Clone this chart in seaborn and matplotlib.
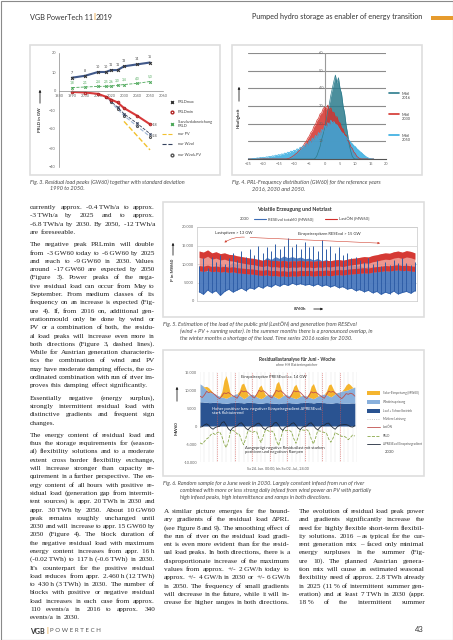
import math
import numpy as np
import matplotlib
matplotlib.use("Agg")
import matplotlib.pyplot as plt
from matplotlib.patches import Rectangle, FancyArrowPatch
from matplotlib.lines import Line2D
from matplotlib.font_manager import FontProperties
import seaborn as sns

sns.set_theme(style="white")
plt.rcParams["font.family"] = ["Lato", "DejaVu Sans"]
plt.rcParams["axes.linewidth"] = 0.5

# ---- Fig. 3 data: residual load peaks
years = [1990, 2000, 2010, 2016, 2020, 2025, 2030, 2040, 2050]
prl_max = [7, 8, 10, 10, 11, 11, 13, 14, 15]
prl_std = [1.8, 2.1, 2.4, 2.5, 2.6, 3.0, 3.4, 4.0, 5.0]
prl_min = [-0.5, -0.8, -1.5, -3, -4.5, -6, -9, -13, -17.5]
max_labels = ["7", "8", "10", "10", "11", "11", "13", "14", "15"]
std_labels = ["1,8", "2,1", "2,4", "2,5", "2,6", "3,0", "3,4", "4,0", "5,0"]
years_scen = [2016, 2020, 2025, 2030, 2040, 2050]
only_wind = [-3, -5.5, -8.5, -12, -17, -22.5]
only_windpv = [-3, -6, -9.5, -13, -18.5, -24]
years_pv = [2030, 2040, 2050]
only_pv = [-16, -23.5, -31]

# ---- Fig. 4 data: frequency of residual load, bins -25 ... 16 GW60 (0.5 steps)
freq_2016 = [0] * 44 + [0.5, 2.0, 4.5, 7.0, 11.0, 14.0,
                        18.0, 22.0, 27.0, 31.0, 36.0, 40.0, 44.0, 47.5, 43.0, 46.0,
                        40.0, 37.0, 30.0, 26.0, 19.0, 14.0, 8.0, 4.5, 1.5, 0.3] + [0] * 13
freq_2030 = [0] * 26 + [0.2, 0.5, 0.9, 1.5,
                        2.0, 2.8, 3.4, 4.5, 5.2, 6.6, 7.4, 9.0, 10.0, 11.8,
                        13.0, 15.0, 16.0, 18.5, 19.5, 22.0, 23.0, 25.5, 26.0, 28.5,
                        29.5, 28.0, 30.5, 27.5, 29.0, 26.0, 26.5, 23.5, 24.0, 21.0,
                        20.5, 17.5, 17.0, 14.0, 13.5, 10.5, 9.5, 7.0, 6.0, 4.0,
                        3.0, 1.5, 0.8, 0.2, 0, 0, 0, 0, 0, 0, 0, 0, 0]
freq_2050 = [0, 0, 0, 0.2, 0.4, 0.3, 0.6, 0.5, 0.8, 0.7,
             1.0, 0.8, 1.2, 1.1, 1.5, 1.3, 1.8, 1.6, 2.2, 2.0,
             2.5, 2.2, 2.9, 2.6, 3.4, 3.0, 3.9, 3.5, 4.5, 4.1,
             5.0, 4.6, 5.8, 5.2, 6.7, 6.0, 7.6, 7.0, 8.8, 8.0,
             10.5, 9.5, 11.8, 10.9, 13.4, 12.2, 15.0, 13.8, 16.8, 15.6,
             19.0, 17.8, 20.6, 19.2, 22.0, 20.4, 21.2, 19.6, 19.4, 17.9,
             16.5, 15.0, 14.6, 13.1, 12.6, 11.2, 10.7, 9.4, 8.6, 7.5,
             7.0, 5.8, 5.1, 4.2, 3.6, 2.7, 2.0, 1.3, 0.8, 0.4,
             0.1, 0, 0]

# ---- Fig. 5 data: weekly ranges, MW60
load_lo = [8200, 8000, 8300, 7900, 8100, 7800, 8000, 7700, 7900, 7600, 7500, 7400, 7300,
           7200, 7000, 6900, 7100, 6800, 6900, 6700, 6800, 6600, 6800, 6700, 6900, 6800,
           6900, 6700, 6900, 6800, 7000, 6800, 7000, 7100, 7000, 7200, 7300, 7400, 7500,
           7600, 7500, 7800, 7900, 8000, 8200, 8100, 8300, 8400, 8200, 8300, 8100, 8000]
load_hi = [13500, 13200, 13800, 13000, 13300, 12800, 13000, 12600, 12500, 12200, 12000, 11800, 11600,
           11500, 11200, 11000, 11300, 10900, 11000, 10800, 11000, 10700, 10900, 10800, 11000, 10800,
           10900, 10700, 10900, 10800, 11000, 10900, 11100, 11200, 11000, 11300, 11500, 11600, 11800,
           12000, 11900, 12300, 12500, 12800, 13000, 12900, 13300, 13500, 13200, 13600, 13400, 13000]
res_lo = [2500, 1800, 3000, 2200, 2800, 1500, 2600, 3200, 2400, 3000, 3500, 2800, 3600,
          3200, 4000, 3500, 4200, 3800, 4500, 4000, 4600, 4200, 4800, 4400, 4700, 4300,
          4500, 4100, 4600, 4000, 4400, 3800, 4200, 3600, 3900, 3200, 3500, 2800, 3100,
          2500, 2900, 2200, 2600, 1800, 2400, 2000, 2700, 1900, 2300, 2600, 2100, 2800]
res_hi = [8500, 9500, 8000, 9800, 8800, 10200, 9000, 9600, 10500, 9800, 10800, 10200, 11000,
          10600, 11400, 10800, 11800, 11200, 12000, 11500, 12200, 11700, 12000, 11600, 11900, 11400,
          11600, 11100, 11500, 10900, 11200, 10600, 10900, 10200, 10500, 9800, 10000, 9400, 9600,
          9000, 9400, 8800, 9200, 8600, 9000, 8400, 9100, 8800, 9300, 9000, 8700, 9200]
res_peak = [9500, 11500, 9000, 12000, 10500, 12500, 10000, 11500, 13000, 11000, 13500, 12000, 14000,
            12500, 15000, 13000, 14500, 13500, 15500, 14000, 15000, 17000, 14500, 15500, 14000, 16000,
            14500, 15000, 13500, 16500, 14000, 15000, 13000, 14500, 12500, 13000, 11500, 12000, 11000,
            10500, 11500, 10000, 11000, 9500, 10500, 9800, 11000, 10200, 11500, 10400, 9800, 10500]

# ---- Fig. 6 data: June week 2030, 3-hourly values, MW60
river = [6700, 6700, 6600, 6600, 6500, 6500, 6600, 6600,
         6500, 6500, 6400, 6400, 6300, 6400, 6500, 6500,
         6600, 6600, 6500, 6500, 6400, 6500, 6600, 6600,
         6500, 6500, 6400, 6300, 6300, 6400, 6500, 6500,
         6400, 6400, 6300, 6300, 6200, 6300, 6400, 6400,
         6500, 6500, 6400, 6400, 6300, 6400, 6500, 6500,
         6600, 6600, 6500, 6500, 6400, 6500, 6600, 6600,
         6500, 6500, 6400, 6400, 6300, 6400, 6500, 6500,
         6400, 6400, 6300, 6300, 6300, 6400, 6400, 6400]
wind = [5000, 4600, 4000, 3500, 3000, 2800, 2500, 2300,
        2000, 1800, 1600, 1500, 1400, 1600, 1800, 2000,
        2200, 2400, 2000, 1600, 1200, 1400, 1800, 2100,
        2300, 2000, 1700, 1500, 1300, 1500, 1900, 2200,
        2400, 2200, 1900, 1600, 1400, 1700, 2000, 2300,
        2100, 1900, 1600, 1400, 1300, 1500, 1800, 2000,
        1900, 1700, 1500, 1300, 1200, 1400, 1700, 1900,
        2200, 2400, 2300, 2000, 1800, 2100, 2500, 2800,
        3000, 3300, 3500, 3600, 3800, 4000, 4200, 4400]
solar = [0, 0, 300, 900, 1100, 600, 0, 0,
         0, 0, 1500, 4800, 6300, 3500, 300, 0,
         0, 0, 1200, 3500, 4300, 2500, 200, 0,
         0, 0, 1000, 3000, 3800, 2000, 200, 0,
         0, 0, 1300, 3900, 4800, 2600, 200, 0,
         0, 0, 1100, 3200, 4000, 2200, 200, 0,
         0, 0, 1100, 3300, 4200, 2300, 200, 0,
         0, 0, 1000, 3000, 3600, 1900, 200, 0,
         0, 0, 600, 1500, 1800, 1000, 100, 0]
load_week = [8300, 7900, 8600, 9600, 9300, 9500, 9100, 8600,
             8000, 7600, 8300, 9200, 9000, 9300, 8900, 8400,
             8100, 7700, 8700, 9800, 9500, 9700, 9300, 8700,
             8200, 7800, 8800, 9900, 9600, 9800, 9400, 8800,
             8200, 7800, 8800, 9900, 9600, 9800, 9300, 8700,
             8100, 7700, 8700, 9800, 9500, 9700, 9300, 8700,
             8000, 7600, 8500, 9500, 9200, 9400, 9000, 8500,
             8100, 7700, 8700, 9700, 9400, 9600, 9200, 8600,
             8000, 7600, 8200, 9000, 8800, 9100, 8900, 8300]
residual = [-4700, -5000, -4300, -3600, -3200, -2400, -2000, -2400,
            -1800, -1600, -2800, -4800, -6000, -4200, -1500, -1200,
            -1500, -2200, -2200, -3900, -5200, -3400, -1300, -1400,
            -1800, -1500, -1600, -3400, -4600, -2800, -1100, -1200,
            -1600, -1400, -2000, -4100, -5400, -3500, -1200, -1300,
            -1300, -1200, -1700, -3500, -4800, -3100, -1000, -1100,
            -1200, -1000, -1600, -3600, -5000, -3300, -1300, -1400,
            -1600, -1800, -2000, -3600, -4500, -3400, -1800, -2200,
            -2500, -2900, -2800, -3200, -3800, -3200, -2500, -2800]
gradient = [-300, -200, 300, 600, 200, -500, -900, -400,
            -200, -100, 900, 1200, 300, -800, -1300, -500,
            -200, 0, 700, 900, 200, -600, -1100, -400,
            -100, 0, 600, 800, 200, -600, -1000, -300,
            -200, -100, 800, 1000, 300, -700, -1200, -400,
            -100, 0, 700, 900, 200, -600, -1000, -300,
            -100, 0, 700, 900, 200, -600, -1100, -400,
            100, 200, 700, 800, 100, -500, -900, -200,
            200, 300, 400, 400, 200, -200, -300, 100]

# ---- page layout helpers (pixel coordinates of the 453x640 page)
W, H = 453, 640
fig = plt.figure(figsize=(W / 100, H / 100), dpi=100)
renderer = fig.canvas.get_renderer()


def fx(x):
    return x / W


def fy(y):
    return 1 - y / H


def box(x0, y0, x1, y1):
    return [fx(x0), fy(y1), (x1 - x0) / W, (y1 - y0) / H]


def txt(x, y, s, **kw):
    kw.setdefault("va", "center")
    return fig.text(fx(x), fy(y), s, **kw)


def frame(x0, y0, x1, y1, ec="#dedede", lw=1.2, fc="none"):
    fig.add_artist(Rectangle((fx(x0), fy(y1)), (x1 - x0) / W, (y1 - y0) / H,
                             transform=fig.transFigure, ec=ec, fc=fc, lw=lw))


def arrow(x0, y0, x1, y1, color="#222222", lw=0.6):
    fig.add_artist(FancyArrowPatch((fx(x0), fy(y0)), (fx(x1), fy(y1)), transform=fig.transFigure,
                                   arrowstyle="-|>", mutation_scale=3, lw=lw, color=color))


def key_line(x0, x1, y, **kw):
    fig.add_artist(Line2D([fx(x0), fx(x1)], [fy(y), fy(y)], transform=fig.transFigure, **kw))


def width_px(s, **kw):
    t = fig.text(0, 0, s, **kw)
    w = t.get_window_extent(renderer=renderer).width
    t.remove()
    return w


T = "\u2009"
BODY = dict(family="Liberation Serif", size=5.25, color="#1e1e1e")
BODY_PROP = FontProperties(family="Liberation Serif", size=5.25)
CAP = dict(family="Lato", style="italic", size=4.0, color="#4a4a4a")
TICK = dict(labelsize=2.8, length=1.2, width=0.4, colors="#666666", pad=1)
SPACE = width_px("a b", **BODY) - width_px("ab", **BODY)


def raster_shift(word):
    # Agg rounds each word's bitmap on its own; shift so all words share one pixel baseline
    try:
        from matplotlib.backends.backend_agg import get_hinting_flag
        font = renderer._prepare_font(BODY_PROP)
        font.set_text(word, 0, flags=get_hinting_flag())
        d = font.get_descent() / 64
        h = font.get_width_height()[1] / 64
        return math.floor(h) - math.floor(h - d) - d
    except Exception:
        return 0.0


def paragraph(lines, x0, x1, y, step=8.3, justify_last=False):
    # one text per word, words of a line share a baseline on whole pixels
    for i, line in enumerate(lines):
        words = line.split(" ")
        last = i == len(lines) - 1 and not justify_last
        base = round(y + 2.0)
        widths = [width_px(w, **BODY) for w in words]
        if last or len(words) == 1:
            gap = SPACE
        else:
            gap = max((x1 - x0 - sum(widths)) / (len(words) - 1), SPACE * 0.6)
        x = x0
        for w, wd in zip(words, widths):
            txt(x, base + raster_shift(w), w, va="baseline", **BODY)
            x += wd + gap
        y += step
    return y


# ---- page frame and header
frame(0.5, 0.5, 452.5, 639.5, ec="#8a8a8a", lw=0.8)
HEAD = dict(family="Lato", size=5.2, color="#333333")
txt(30, 17, "VGB PowerTech 11", **HEAD)
w1 = width_px("VGB PowerTech 11", **HEAD)
txt(30 + w1 + 0.5, 17, "|", family="Lato", size=5.2, color="#e69b2d", weight="bold")
txt(30 + w1 + 2.5, 17, "2019", **HEAD)
txt(422, 17, "Pumped hydro storage as enabler of energy transition", ha="right", **HEAD)
frame(431, 16, 453, 20, ec="none", fc="#e69b2d", lw=0)

# ---- Fig. 3
frame(30, 45, 220, 175)
ax3 = fig.add_axes(box(59, 53, 163, 167))
ax3.set_xlim(1980, 2060)
ax3.set_ylim(-40, 20)
sns.lineplot(x=years, y=prl_max, ax=ax3, color="#41598a", lw=1.5, marker="x", markersize=2,
             markeredgecolor="#333333")
sns.lineplot(x=years, y=prl_std, ax=ax3, color="#4da85a", lw=0.6, linestyle="--", marker="x",
             markersize=1.8, markeredgecolor="#4da85a")
sns.lineplot(x=years_scen, y=only_windpv, ax=ax3, color="#9fb6d6", lw=0.8, linestyle="--",
             marker="o", markersize=1.5, markerfacecolor="none", markeredgecolor="#555555")
sns.lineplot(x=years_scen, y=only_wind, ax=ax3, color="#35425e", lw=0.6, linestyle="--",
             marker="x", markersize=1.6, markeredgecolor="#35425e")
sns.lineplot(x=years_pv, y=only_pv, ax=ax3, color="#f2c12e", lw=1.0, linestyle="--")
sns.lineplot(x=years, y=prl_min, ax=ax3, color="#d8393a", lw=1.5, marker="o", markersize=1.8,
             markerfacecolor="none", markeredgecolor="#b02525")
for xv, yv, lab in zip(years, prl_max, max_labels):
    ax3.text(xv, yv + 2.2, lab, fontsize=2.6, color="#444444", ha="center")
for xv, yv, lab in zip(years, prl_std, std_labels):
    ax3.text(xv, yv + 2.0, lab, fontsize=2.4, color="#4da85a", ha="center")
ax3.text(years[-1] + 1.5, prl_min[-1] - 0.5, "-18", fontsize=2.6, color="#444444", va="center")
ax3.text(years_scen[-1] + 1.5, only_windpv[-1] + 0.5, "-24", fontsize=2.6, color="#444444", va="center")
ax3.set_xticks(range(1980, 2061, 10))
ax3.set_yticks(range(-40, 21, 10))
ax3.tick_params(**TICK)
ax3.spines["bottom"].set_position(("data", 0))
for s in ["top", "right"]:
    ax3.spines[s].set_visible(False)
for s in ["left", "bottom"]:
    ax3.spines[s].set_color("#888888")
ax3.set_xlabel("")
ax3.set_ylabel("")
ax3.set_facecolor("none")
txt(40, 120, "PRLD in GW", rotation=90, ha="center", size=3.2, weight="bold", color="#333333")
arrow(40, 106, 40, 87)
legend3 = [("PRLDmax", "x", "#333333", None, 102),
           ("PRLDmin", "o", "#b02525", None, 112),
           ("Standardabweichung\nPRLD", "x", "#4da85a", None, 124),
           ("nur PV", None, "#f2c12e", "--", 134),
           ("nur Wind", None, "#35425e", "--", 144),
           ("nur Wind+PV", "o", "#555555", None, 155)]
for lab, mk, col, ls, yy in legend3:
    if mk:
        fig.add_artist(Line2D([fx(172)], [fy(yy)], transform=fig.transFigure, marker=mk, ms=2,
                              color=col, mfc="none", lw=0))
    else:
        key_line(162, 173, yy, color=col, lw=0.8, ls=ls)
    txt(178, yy, lab, size=2.8, color="#444444", linespacing=1.1)
txt(30, 182, "Fig. 3. Residual load peaks (GW60) together with standard deviation", **CAP)
txt(50, 189, "1990 to 2050.", **CAP)

# ---- Fig. 4
frame(232, 45, 422, 175)
ax4 = fig.add_axes(box(248, 53, 386, 159))
bins = np.arange(-25, 16.5, 0.5)
ax4.set_xlim(-25, 20)
ax4.set_ylim(0, 60)
for yv in range(10, 61, 10):
    ax4.axhline(yv, color="#8c8c8c", lw=0.8, zorder=0)
ax4.axvline(0, color="#9a9a9a", lw=0.8, zorder=0)
for vals, col in [(freq_2016, "#2b7b8c"), (freq_2030, "#d3332d"), (freq_2050, "#35ace0")]:
    ax4.fill_between(bins, 0, vals, color=col, alpha=0.85, lw=0)
    sns.lineplot(x=bins, y=vals, ax=ax4, color=col, lw=0.5)
for yv in range(10, 61, 10):
    ax4.text(-0.4, yv, str(yv), fontsize=2.8, color="#666666", ha="right", va="center")
ax4.set_xticks(range(-25, 21, 5))
ax4.set_yticks([])
ax4.tick_params(**TICK)
for s in ["top", "right", "left"]:
    ax4.spines[s].set_visible(False)
ax4.spines["bottom"].set_color("#555555")
ax4.spines["bottom"].set_linewidth(0.8)
ax4.set_xlabel("")
ax4.set_ylabel("")
ax4.set_facecolor("none")
txt(239, 118, "Häufigkeit", rotation=90, ha="center", size=3.2, weight="bold", color="#333333")
arrow(239, 104, 239, 84)
for lab, col, yy in [("Mittl\n2016", "#2b7b8c", 96), ("Mittl\n2030", "#d3332d", 117),
                     ("Mittl\n2050", "#35ace0", 138)]:
    key_line(389, 399, yy - 3, color=col, lw=1.2)
    txt(402, yy, lab, size=2.8, color="#444444", linespacing=1.3)
txt(232, 182, "Fig. 4. PRL-Frequency distribution (GW60) for the reference years", **CAP)
txt(252, 189, "2016, 2030 and 2050.", **CAP)

# ---- Fig. 5
frame(163, 202, 424, 317)
ax5 = fig.add_axes(box(197, 227, 417, 301))
hours5 = (np.arange(len(load_lo)) + 0.5) * 8760 / len(load_lo)
ax5.set_xlim(0, 8760)
ax5.set_ylim(0, 20000)
for yv in range(5000, 20001, 5000):
    ax5.axhline(yv, color="#d0d0d0", lw=0.5, zorder=0)
ax5.fill_between(hours5, res_lo, res_hi, color="#4a78bd", alpha=0.95, lw=0)
ax5.fill_between(hours5, load_lo, load_hi, color="#ea857c", alpha=0.85, lw=0)
ax5.fill_between(hours5, load_lo, np.array(load_lo) + 1400, color="#d32f2a", alpha=0.9, lw=0)
ax5.fill_between(hours5, np.array(load_hi) - 1700, load_hi, color="#d32f2a", alpha=0.9, lw=0)
ax5.vlines(hours5, res_lo, res_peak, color="#2f5ea8", lw=0.7)
sns.lineplot(x=hours5, y=res_lo, ax=ax5, color="#2f5ea8", lw=0.5)
ax5.annotate("", xy=(1000, 15400), xytext=(2000, 17200),
             arrowprops=dict(arrowstyle="-|>", color="#d0402f", lw=0.4, mutation_scale=3,
                             connectionstyle="arc3,rad=0.2"))
ax5.annotate("", xy=(7400, 15600), xytext=(2000, 17200),
             arrowprops=dict(arrowstyle="-|>", color="#d0402f", lw=0.4, mutation_scale=3))
ax5.set_yticks(range(0, 20001, 5000))
ax5.set_yticklabels(["0", "5.000", "10.000", "15.000", "20.000"])
ax5.set_xticks([])
ax5.tick_params(**TICK)
for s in ax5.spines.values():
    s.set_color("#c8c8c8")
ax5.set_xlabel("")
ax5.set_ylabel("")
txt(294, 210, "Volatile Erzeugung und Netzlast", ha="center", size=3.8, weight="bold", color="#333333")
txt(240, 219, "2030", size=3.0, color="#444444")
key_line(254, 266, 219, color="#3d6db5", lw=0.8)
txt(268, 219, "RESEvol total60 [MW60]", size=3.0, color="#444444")
key_line(325, 337, 219, color="#d32f2a", lw=0.8)
txt(339, 219, "LastÖN [MW60]", size=3.0, color="#444444")
txt(215, 233, "Lastspitzen > 13 GW", size=3.0, color="#333333")
txt(298, 234, "Einspeisespitzen RESEvol > 15 GW", size=3.0, color="#333333")
txt(173, 270, "P in MW60", rotation=90, ha="center", size=3.2, weight="bold", color="#333333")
arrow(173, 258, 173, 240)
txt(300, 309, "8760h", ha="center", size=3.2, weight="bold", color="#333333")
arrow(311, 309, 326, 309)
txt(163, 324, "Fig. 5. Estimation of the load of the public grid (LastÖN) and generation from RESEvol", **CAP)
txt(180, 331, "(wind + PV + running water). In the summer months there is a pronounced overlap, in", **CAP)
txt(180, 338, "the winter months a shortage of the load. Time series 2016 scales for 2030.", **CAP)

# ---- Fig. 6
frame(163, 350, 424, 476)
ax6 = fig.add_axes(box(200, 372, 357, 462))
hours6 = np.arange(0, 3 * len(river), 3)
ax6.set_xlim(0, 216)
ax6.set_ylim(-10000, 15000)
ax6.vlines(np.arange(0, 217, 6), -10000, 15000, color="#e2e2e2", lw=0.3, zorder=0)
ax6.stackplot(hours6, river, wind, solar, colors=["#2a5391", "#89b0dc", "#f5b52e"], lw=0)
ax6.vlines(np.arange(24, 216, 24), -10000, 15000, color="#d9534f", lw=0.5, linestyles=":")
sns.lineplot(x=hours6, y=load_week, ax=ax6, color="#c0504d", lw=0.6)
sns.lineplot(x=hours6, y=residual, ax=ax6, color="#8aa84a", lw=0.6, linestyle="--")
sns.lineplot(x=hours6, y=gradient, ax=ax6, color="#1f2a3a", lw=0.6)
ax6.set_yticks(range(-10000, 15001, 5000))
ax6.set_yticklabels(["-10.000", "-5.000", "0", "5.000", "10.000", "15.000"])
ax6.set_xticks([])
ax6.tick_params(**TICK)
for s in ax6.spines.values():
    s.set_visible(False)
ax6.set_xlabel("")
ax6.set_ylabel("")
txt(297, 359, "Residuallastanalyse für Juni - Woche", ha="center", size=3.4, weight="bold", color="#333333")
txt(297, 365, "ohne HH Batteriespeicher", ha="center", size=2.6, color="#555555")
txt(177, 428, "MW60", rotation=90, ha="center", size=3.2, weight="bold", color="#333333")
arrow(177, 404, 177, 384)
txt(241, 377, "Einspeisespitze PRESEvol ca. 14 GW", size=3.0, color="#333333")
txt(212, 411, "Hoher positiver bzw. negativer Einspeisegradient ΔPRESEvol,\nstark fluktuierend",
    size=3.0, color="white", linespacing=1.2)
txt(245, 450, "Ausgeprägt negative Residuallast mit starken\npositiven und negativen Rampen",
    size=3.0, color="#333333", linespacing=1.2)
txt(278, 468, "Sa 24. Jun. 00:00, bis So 02. Jul., 24:00", ha="center", size=2.6, color="#555555")
legend6 = [("Solar-Einspeisung [MW60]", "patch", "#f5b52e"),
           ("Windeinspeisung", "patch", "#89b0dc"),
           ("Lauf + Schwellbetrieb", "patch", "#2a5391"),
           ("Mittlere Leistung", ":", "#b5b5b5"),
           ("LastÖN", "-", "#c0504d"),
           ("PRLD", "--", "#8aa84a"),
           ("ΔPRESEvol Einspeisegradient", "-", "#1f2a3a")]
for (lab, kind, col), yy in zip(legend6, [393, 402, 411, 419, 427, 436, 444]):
    if kind == "patch":
        frame(367, yy - 1.6, 380, yy + 1.6, ec="none", fc=col, lw=0)
    else:
        key_line(367, 380, yy, color=col, lw=0.6, ls=kind)
    txt(383, yy, lab, size=2.2, color="#555555")
txt(385, 452, "2030", size=3.0, color="#444444")
txt(163, 483, "Fig. 6. Random sample for a June week in 2030. Largely constant infeed from run of river", **CAP)
txt(180, 490, "combined with more or less strong daily infeed from wind power an PV with partially", **CAP)
txt(180, 497, "high infeed peaks, high intermittence and ramps in both directions.", **CAP)

# ---- body text
col1 = [
    ["currently approx. -0.4" + T + "TWh/a to approx.",
     "-3" + T + "TWh/a by 2025 and to approx.",
     "-6.8" + T + "TWh/a by 2030. By 2050, -12" + T + "TWh/a",
     "are foreseeable."],
    ["The negative peak PRLmin will double",
     "from -3" + T + "GW60 today to -6" + T + "GW60 by 2025",
     "and reach to -9" + T + "GW60 in 2030. Values",
     "around -17" + T + "GW60 are expected by 2050",
     "(Figure 3). Power peaks of the nega-",
     "tive residual load can occur from May to",
     "September. From medium classes of its",
     "frequency on an increase is expected (Fig-",
     "ure 4). If, from 2016 on, additional gen-",
     "erationmould only be done by wind or",
     "PV or a combination of both, the residu-",
     "al load peaks will increase even more in",
     "both directions (Figure 3, dashed lines).",
     "While for Austrian generation characteris-",
     "tics the combination of wind and PV",
     "may have moderate damping effects, the co-",
     "ordinated combination with run of river im-",
     "proves this damping effect significantly."],
    ["Essentially negative (energy surplus),",
     "strongly intermittent residual load with",
     "distinctive gradients and frequent sign",
     "changes."],
    ["The energy content of residual load and",
     "thus the storage requirements for (season-",
     "al) flexibility solutions and to a moderate",
     "extent cross border flexibility exchange,",
     "will increase stronger than capacity re-",
     "quirement in a further perspective. The en-",
     "ergy content of all hours with positive re-",
     "sidual load (generation gap from intermit-",
     "tent sources) is appr. 20" + T + "TWh in 2030 and",
     "appr. 30" + T + "TWh by 2050. About 10" + T + "GW60",
     "peak remains roughly unchanged until",
     "2030 and will increase to appr. 15" + T + "GW60 by",
     "2050 (Figure 4). The block duration of",
     "the negative residual load with maximum",
     "energy content increases from appr. 16" + T + "h",
     "(-0.02" + T + "TWh) to 117" + T + "h (-0.6" + T + "TWh) in 2030.",
     "It's counterpart for the positive residual",
     "load reduces from appr. 2.460" + T + "h (12" + T + "TWh)",
     "to 430" + T + "h (3" + T + "TWh) in 2030. The number of",
     "blocks with positive or negative residual",
     "load increases in each case from approx.",
     "110 events/a in 2016 to approx. 340",
     "events/a in 2030."],
]
y = 207
for p in col1:
    y = paragraph(p, 30, 155, y) + 4.0

col2 = ["A similar picture emerges for the bound-",
        "ary gradients of the residual load ΔPRL",
        "(see Figure 8 and 9). The smoothing effect of",
        "the run of river on the residual load gradi-",
        "ent is even more evident than for the resid-",
        "ual load peaks. In both directions, there is a",
        "disproportionate increase of the maximum",
        "values from approx. +/- 2" + T + "GW/h today to",
        "approx. +/- 4" + T + "GW/h in 2030 or +/- 6" + T + "GW/h",
        "in 2050. The frequency of small gradients",
        "will decrease in the future, while it will in-",
        "crease for higher ranges in both directions."]
paragraph(col2, 164, 290, 511)

col3 = ["The evolution of residual load peak power",
        "and gradients significantly increase the",
        "need for highly flexible short-term flexibil-",
        "ity solutions. 2016 – as typical for the cur-",
        "rent generation mix – faced only minimal",
        "energy surpluses in the summer (Fig-",
        "ure 10). The planned Austrian genera-",
        "tion mix will cause an estimated seasonal",
        "flexibility need of approx. 2.8" + T + "TWh already",
        "in 2025 (11" + T + "% of intermittent summer gen-",
        "eration) and at least 7" + T + "TWh in 2030 (appr.",
        "18" + T + "% of the intermittent summer"]
paragraph(col3, 299, 425, 511, justify_last=True)

# ---- footer
txt(30, 631, "VGB", family="Lato", size=5.0, weight="bold", color="#333333")
wv = width_px("VGB", family="Lato", size=5.0, weight="bold")
txt(30 + wv + 1.5, 631, "|", family="Lato", size=5.0, weight="bold", color="#e69b2d")
txt(30 + wv + 5, 631, "P O W E R T E C H", family="Lato", size=4.4, color="#555555")
txt(424, 630, "43", ha="right", family="Lato", size=5.5, color="#333333")

fig.savefig("out.png", dpi=100)
